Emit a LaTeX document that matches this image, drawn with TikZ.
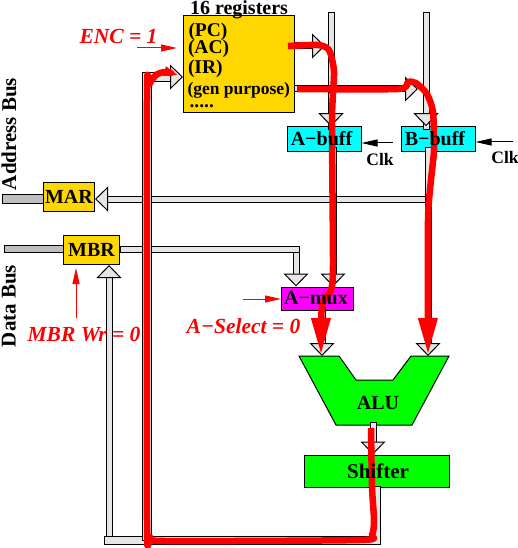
\documentclass[tikz,border=0pt]{standalone}
\usepackage{fontspec}
\setmainfont{Liberation Serif}
\usetikzlibrary{arrows.meta, positioning}
\definecolor{pipegray}{gray}{0.9}
\definecolor{busgray}{gray}{0.745}
\definecolor{regyellow}{RGB}{255,215,0}
\definecolor{buffcyan}{RGB}{0,255,255}
\definecolor{muxmagenta}{RGB}{255,0,255}
\definecolor{alugreen}{RGB}{0,255,0}
\definecolor{pathred}{RGB}{255,0,0}

\begin{document}
\begin{tikzpicture}[
    x=1pt, y=-1pt,
    line width=1pt,
    box/.style={draw, inner sep=0pt},
    boxtext/.style={inner sep=0pt, font=\fontsize{20}{20}\selectfont\bfseries},
    regline/.style={anchor=west, inner sep=0pt, font=\fontsize{19.5}{20}\selectfont\bfseries},
    clk/.style={inner sep=0pt, font=\fontsize{17.5}{18}\selectfont\bfseries},
    busname/.style={rotate=90, inner sep=0pt, font=\fontsize{21}{21}\selectfont\bfseries},
    redtext/.style={pathred, inner sep=0pt, font=\fontsize{21.5}{21}\selectfont\bfseries\itshape},
    pipe/.style={line width=1pt, double=pipegray, double distance=5pt, line cap=rect},
    widepipe/.style={line width=1pt, double=pipegray, double distance=7.5pt, line cap=rect},
    head/.style={-{Triangle[length=13pt, width=25pt, line width=1pt, fill=pipegray]}},
    bus/.style={draw, fill=busgray},
    control/.style={->, >={Triangle[length=16pt, width=7pt]}},
    redpath/.style={pathred, line width=6.5pt, line join=round}
]
\useasboundingbox (0,0) rectangle (518,548);

% buses at the left
\draw[bus] (2.5,194) rectangle (44,203);
\draw[bus] (4,245) rectangle (64,252);

\node[box, fill=regyellow, minimum width=111pt, minimum height=97pt] (regs) at (239,64) {};
\node[box, fill=regyellow, minimum width=51pt, minimum height=29pt] (MAR) at (69,197) {};
\node[box, fill=regyellow, minimum width=56pt, minimum height=29pt] (MBR) at (91.5,250) {};
\node[box, fill=buffcyan, minimum width=74pt, minimum height=24.5pt] (Abuff) at (324,139) {};
\node[box, fill=buffcyan, minimum width=74pt, minimum height=24.5pt] (Bbuff) at (438,139) {};
\node[box, fill=muxmagenta, minimum width=72pt, minimum height=23pt] (Amux) at (317.5,298.5) {};
\node[box, fill=alugreen, minimum width=145pt, minimum height=32pt] (Shifter) at (376.5,471) {};
\draw[fill=alugreen] (299,356) -- (339,356) -- (356,380) -- (393,380) -- (411,356) -- (449,356) -- (412,425) -- (336,425) -- cycle;

% free ends of the pipes
\coordinate (Atop) at (331,16);
\coordinate (Btop) at (426,16);
\coordinate (Abelow) at (333,151);
\coordinate (Bbelow) at (428,151);
\coordinate (Bleft) at (426,199);
\coordinate (MBRend) at (296,249);
\coordinate (ALUa) at (322,356);
\coordinate (ALUb) at (428,356);
\coordinate (ALUout) at (373,425);
\coordinate (corner) at (376.5,540.5);
\coordinate (leftend) at (109,540.5);

\draw[pipe] (Atop) -- (Atop |- Abuff.north);
\draw[pipe] (Btop) -- (Btop |- Bbuff.north);
\draw[pipe, head] (Atop) ++(0,80) -- (Atop |- Abuff.north);
\draw[pipe, head] (Btop) ++(0,80) -- (Btop |- Bbuff.north);
\draw[pipe, head] (Bleft) -- (MAR.east |- Bleft);
\draw[pipe] (Bbelow) -- (Bbelow |- Bleft);
\draw[pipe, head] (Bbelow) -- (ALUb);
\draw[pipe, head] (Abelow) -- (Abelow |- Amux.north);
\draw[pipe] (MBR.east) ++(3,-1) -- (MBRend) -- (MBRend |- 0,262);
\draw[pipe, head] (MBRend) ++(0,6) -- (MBRend |- Amux.north);
\draw[pipe, head] (ALUa |- Amux.south) -- (ALUa);
\draw[pipe, head] (ALUout) -- (ALUout |- Shifter.north);
\draw[pipe, head] (regs.east |- 0,46) ++(2,0) -- (325,46);
\draw[pipe, head] (regs.east |- 0,89) ++(2,0) -- (418,89);
\draw[pipe, head] (leftend) -- (leftend |- MBR.south);
\draw[widepipe] (Shifter.south -| corner) ++(0,3) -- (corner) -- (leftend);
\draw[widepipe, head] (147,536) -- (147,77) -- (regs.west |- 0,77);

\coordinate (ClkAarrow) at (393,143);
\coordinate (ClkBarrow) at (513,142);
\draw[control] (ClkAarrow) -- (Abuff.east |- ClkAarrow);
\draw[control] (ClkBarrow) -- (Bbuff.east |- ClkBarrow);

% what the control unit sets
\coordinate (ENCarrow) at (137,48);
\coordinate (Aselarrow) at (243,299);
\coordinate (MBRarrow) at (76,318);
\draw[control, pathred, shorten >=6pt] (ENCarrow) -- (regs.west |- ENCarrow);
\draw[control, pathred] (Aselarrow) -- (Amux.west |- Aselarrow);
\draw[control, pathred, shorten >=3pt] (MBRarrow) -- (MBRarrow |- MBR.south);

% the data path
\draw[redpath, -{Triangle[length=14pt, width=9pt]}] plot[smooth, tension=0.4] coordinates {(371,428) (372,487) (374,520) (372,535) (360,540) (165,541) (150,537) (147,520) (147,100) (149,85) (156,75) (165,72) (178,75)};
\draw[redpath, -{Triangle[length=37pt, width=18pt]}] plot[smooth, tension=0.4] coordinates {(288,46) (318,45) (329,50) (334,72) (332,120) (333,265) (331,290) (322,305) (321,355)};
\draw[redpath, -{Triangle[length=37pt, width=18pt]}] plot[smooth, tension=0.4] coordinates {(297,89) (398,89) (408,82) (416,83) (427,94) (433,112) (434,150) (431,180) (428,220) (428,355)};

% texts on top of the path
\node[boxtext] (MARtext) at (MAR) {MAR};
\node[boxtext] (MBRtext) at (MBR) {MBR};
\node[boxtext] (Abufftext) at (321.5,139) {A−buff};
\node[boxtext] (Bbufftext) at (435,139) {B−buff};
\node[boxtext] (Amuxtext) at (316,298.5) {A−mux};
\node[boxtext, font=\fontsize{21}{21}\selectfont\bfseries] (Shiftertext) at (378,471) {Shifter};
\node[boxtext] (ALU) at (378,403) {ALU};
\node[regline] (PC) at (188,32) {(PC)};
\node[regline] (AC) at (187.5,49) {(AC)};
\node[regline] (IR) at (187.5,69) {(IR)};
\node[regline, font=\fontsize{17.5}{18}\selectfont\bfseries] (gen) at (187,90) {(gen purpose)};
\node[regline] (dots) at (189,106) {.....};
\node[boxtext] (title) at (239,9.5) {16 registers};
\node[clk] (ClkA) at (380,160) {Clk};
\node[clk] (ClkB) at (505,158) {Clk};
\node[busname] (addr) at (9,134) {Address Bus};
\node[busname] (data) at (9,306) {Data Bus};
\node[redtext] (ENC) at (118.5,36) {ENC = 1};
\node[redtext] (MBRwr) at (84,335) {MBR Wr = 0};
\node[redtext] (Asel) at (243.5,326) {A−Select = 0};
\end{tikzpicture}
\end{document}
